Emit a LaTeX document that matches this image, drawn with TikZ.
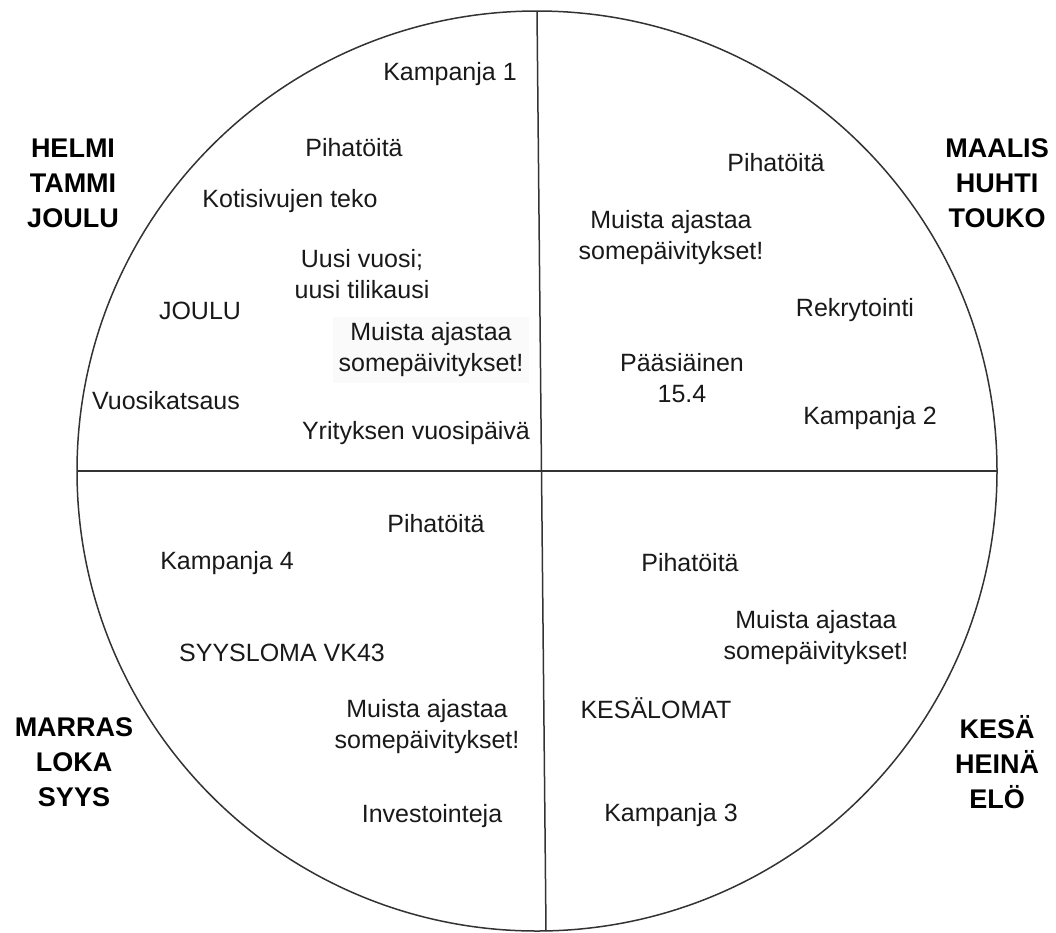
\documentclass[tikz,border=0pt]{standalone}
\usepackage{fontspec}
\setmainfont{Liberation Sans}
\begin{document}
\begin{tikzpicture}[x=1pt, y=-1pt,
  rim/.style={line width=1.5pt, draw=black!80},
  note/.style={font=\fontsize{25}{31}\selectfont, align=center, text=black!90, inner sep=2pt},
  months/.style={font=\fontsize{27}{35}\selectfont\bfseries, align=center, text=black},
  tinted/.style={fill=black!2, inner sep=6pt}]
\useasboundingbox (0,0) rectangle (1056,932);

% year wheel split into four quarters
\node[circle, rim, minimum size=920pt, inner sep=0pt, outer sep=0pt] (wheel) at (537,471) {};
\coordinate (wheelfoot) at (546,931);
\draw[rim] (wheel.north) -- (wheelfoot);
\draw[rim] (wheel.west) -- (wheel.east);

% month groups
\node[months] (q1) at (73,183) {HELMI\\TAMMI\\JOULU};
\node[months] (q2) at (997,183) {MAALIS\\HUHTI\\TOUKO};
\node[months] (q3) at (74,762) {MARRAS\\LOKA\\SYYS};
\node[months] (q4) at (997,762) {KESÄ\\HEINÄ\\ELÖ};

% winter quarter
\node[note] (a1) at (450,74) {Kampanja 1};
\node[note] (a2) at (354,148) {Pihatöitä};
\node[note] (a3) at (290,201) {Kotisivujen teko};
\node[note] (a4) at (362,274) {Uusi vuosi;\\uusi tilikausi};
\node[note] (a5) at (200,311) {JOULU};
\node[note, tinted] (a6) at (431,350) {Muista ajastaa\\somepäivitykset!};
\node[note] (a7) at (166,401) {Vuosikatsaus};
\node[note] (a8) at (416,433) {Yrityksen vuosipäivä};

% spring quarter
\node[note] (b1) at (776,163) {Pihatöitä};
\node[note] (b2) at (671,238) {Muista ajastaa\\somepäivitykset!};
\node[note] (b3) at (855,310) {Rekrytointi};
\node[note] (b4) at (682,378) {Pääsiäinen\\15.4};
\node[note] (b5) at (870,418) {Kampanja 2};

% autumn quarter
\node[note] (c1) at (436,524) {Pihatöitä};
\node[note] (c2) at (227,563) {Kampanja 4};
\node[note] (c3) at (282,653) {SYYSLOMA VK43};
\node[note] (c4) at (427,727) {Muista ajastaa\\somepäivitykset!};
\node[note] (c5) at (432,816) {Investointeja};

% summer quarter
\node[note] (d1) at (690,563) {Pihatöitä};
\node[note] (d2) at (816,638) {Muista ajastaa\\somepäivitykset!};
\node[note] (d3) at (656,708) {KESÄLOMAT};
\node[note] (d4) at (671,815) {Kampanja 3};
\end{tikzpicture}
\end{document}
